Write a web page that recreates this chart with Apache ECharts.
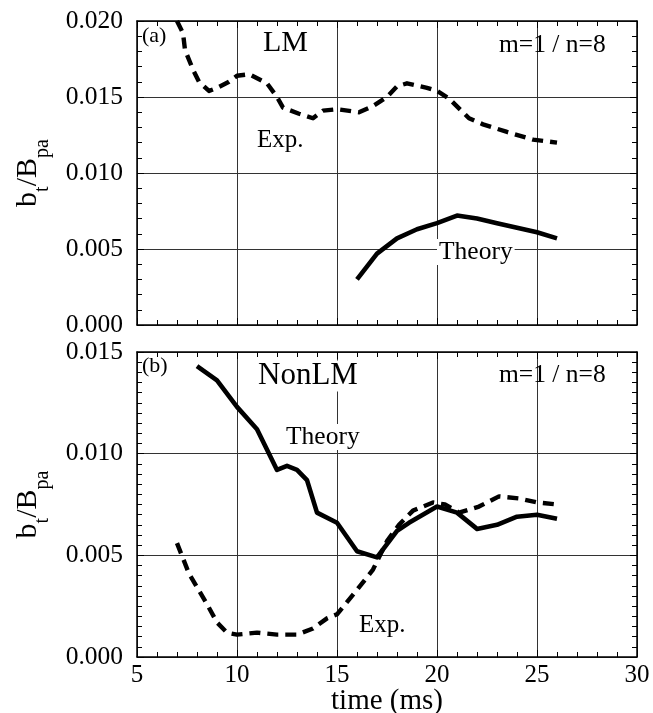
<!DOCTYPE html>
<html>
<head>
<meta charset="utf-8">
<script src="https://cdn.jsdelivr.net/npm/echarts@6/dist/echarts.min.js"></script>
<style>
html,body{margin:0;padding:0;background:#fff;}
#c{width:653px;height:713px;}
</style>
</head>
<body>
<div id="c"></div>
<script>
// ---- data (time in ms, b_t/B_pa) ----
var xTicks = [5, 10, 15, 20, 25, 30];
var topYTicks = [0.000, 0.005, 0.010, 0.015, 0.020];
var botYTicks = [0.000, 0.005, 0.010, 0.015];

// (a) LM, experiment (dashed)
var lmExpT = [7.0, 7.3, 7.4, 7.8, 8.1, 8.6, 9.0, 9.6, 10.0, 10.6, 11.5, 12.0, 12.3, 13.1, 13.8, 14.3, 15.0, 16.1, 16.8, 17.5, 18.0, 18.5, 19.5, 20.0, 20.6, 21.6, 22.3, 23.5, 24.8, 26.0];
var lmExpV = [0.0200, 0.0192, 0.0181, 0.0168, 0.0160, 0.0154, 0.0156, 0.0160, 0.0164, 0.0165, 0.0159, 0.0150, 0.0143, 0.0139, 0.0136, 0.0141, 0.0142, 0.0140, 0.0144, 0.0150, 0.0157, 0.0159, 0.0156, 0.0154, 0.0149, 0.0136, 0.0132, 0.0127, 0.0122, 0.0120];
// (a) LM, theory (solid)
var lmThT = [16, 17, 18, 19, 20, 21, 22, 23, 24, 25, 26];
var lmThV = [0.0030, 0.0047, 0.0057, 0.0063, 0.0067, 0.0072, 0.0070, 0.0067, 0.0064, 0.0061, 0.0057];

// (b) NonLM, theory (solid)
var nlmThT = [8, 9, 10, 11, 12, 12.5, 13, 13.5, 14, 15, 16, 17, 18, 18.6, 20, 21, 22, 23, 24, 25, 26];
var nlmThV = [0.0143, 0.0136, 0.0123, 0.0112, 0.0092, 0.0094, 0.0092, 0.0087, 0.0071, 0.0066, 0.0052, 0.0049, 0.0062, 0.0066, 0.0074, 0.0071, 0.0063, 0.0065, 0.0069, 0.0070, 0.0068];
// (b) NonLM, experiment (dashed)
var nlmExpT = [7.0, 7.6, 8.5, 9.0, 9.5, 10.0, 11.0, 12.0, 13.0, 13.8, 14.5, 15.0, 16.0, 16.8, 17.5, 18.1, 18.8, 19.8, 20.4, 21.1, 22.1, 23.1, 24.1, 25.0, 26.0];
var nlmExpV = [0.0056, 0.0041, 0.0026, 0.0017, 0.0012, 0.0011, 0.0012, 0.0011, 0.0011, 0.0014, 0.0019, 0.0021, 0.0033, 0.0043, 0.0057, 0.0065, 0.0072, 0.0076, 0.0075, 0.0071, 0.0074, 0.0079, 0.0078, 0.0076, 0.0075];

// ---- text ----
var panelTags = ['(a)', '(b)'];
var panelTitles = ['LM', 'NonLM'];
var modeLabel = 'm=1 / n=8';
var expLabel = 'Exp.';
var theoryLabel = 'Theory';
var xTitle = 'time (ms)';

function zip(a, b) { return a.map(function (v, i) { return [v, b[i]]; }); }

var FONT = "'Liberation Serif', 'Times New Roman', Times, serif";
var gridColor = '#333';

function xAxisDef(grid, pos, labels) {
  return {
    type: 'value', gridIndex: grid, position: pos,
    min: xTicks[0], max: xTicks[xTicks.length - 1], interval: 5,
    axisLine: { show: true, onZero: false, lineStyle: { color: '#000', width: 1.5 } },
    axisTick: { show: true, inside: true, length: 7, lineStyle: { color: '#000', width: 1 } },
    minorTick: { show: true, splitNumber: 5, length: 5, lineStyle: { color: '#000', width: 1 } },
    axisLabel: { show: labels, color: '#000', fontFamily: FONT, fontSize: 25, margin: 6,
      showMinLabel: true, showMaxLabel: true },
    splitLine: { show: pos === 'bottom', lineStyle: { color: gridColor, width: 1 } },
    name: labels ? xTitle : '', nameLocation: 'middle', nameGap: 30, nameMoveOverlap: false,
    nameTextStyle: { color: '#000', fontFamily: FONT, fontSize: 29 }
  };
}
function yAxisDef(grid, pos, ticks, minorSplit, labels) {
  return {
    type: 'value', gridIndex: grid, position: pos,
    min: ticks[0], max: ticks[ticks.length - 1], interval: 0.005,
    axisLine: { show: true, onZero: false, lineStyle: { color: '#000', width: 1.5 } },
    axisTick: { show: true, inside: true, length: 7, lineStyle: { color: '#000', width: 1 } },
    minorTick: { show: true, splitNumber: minorSplit, length: 5, lineStyle: { color: '#000', width: 1 } },
    axisLabel: { show: labels, color: '#000', fontFamily: FONT, fontSize: 25.5, margin: 14,
      showMinLabel: true, showMaxLabel: true,
      formatter: function (v) { return v.toFixed(3); } },
    splitLine: { show: pos === 'left', lineStyle: { color: gridColor, width: 1 } },
    name: labels ? '{b|b}{s|t}{b|/B}{s|pa}' : '', nameLocation: 'middle', nameRotate: 90, nameGap: 84,
    nameMoveOverlap: false,
    nameTextStyle: { color: '#000', rich: {
      b: { fontFamily: FONT, fontSize: 30, color: '#000' },
      s: { fontFamily: FONT, fontSize: 20, color: '#000', padding: [30, 0, 0, 0] }
    } }
  };
}

function lineSeries(xi, yi, data, dashed) {
  return {
    type: 'line', xAxisIndex: xi, yAxisIndex: yi, data: data,
    showSymbol: false, symbol: 'none', smooth: false, clip: true, silent: true,
    lineStyle: { color: '#000', width: dashed ? 4.4 : 4.6, type: dashed ? [11, 7] : 'solid', cap: 'butt', join: 'round' }
  };
}

function label(x, y, text, size, bg) {
  return {
    type: 'text', x: x, y: y, z: 100,
    style: { text: text, fill: '#000', fontFamily: FONT, fontSize: size,
      textAlign: 'left', textVerticalAlign: 'middle',
      backgroundColor: bg ? '#fff' : null, padding: bg ? [0, 2, 0, 2] : 0 }
  };
}

var chart = echarts.init(document.getElementById('c'), null, { renderer: 'canvas' });
chart.setOption({
  animation: false,
  backgroundColor: '#fff',
  grid: [
    { left: 137, top: 21, width: 500, height: 304, containLabel: false, outerBoundsMode: 'none' },
    { left: 137, top: 352, width: 500, height: 305, containLabel: false, outerBoundsMode: 'none' }
  ],
  xAxis: [
    xAxisDef(0, 'bottom', false),
    xAxisDef(0, 'top', false),
    xAxisDef(1, 'bottom', true),
    xAxisDef(1, 'top', false)
  ],
  yAxis: [
    yAxisDef(0, 'left', topYTicks, 5, true),
    yAxisDef(0, 'right', topYTicks, 5, false),
    yAxisDef(1, 'left', botYTicks, 10, true),
    yAxisDef(1, 'right', botYTicks, 10, false)
  ],
  series: [
    lineSeries(0, 0, zip(lmExpT, lmExpV), true),
    lineSeries(0, 0, zip(lmThT, lmThV), false),
    lineSeries(2, 2, zip(nlmThT, nlmThV), false),
    lineSeries(2, 2, zip(nlmExpT, nlmExpV), true)
  ],
  graphic: [
    label(142, 36, panelTags[0], 22, false),
    label(263, 43, panelTitles[0], 30, false),
    label(499, 45, modeLabel, 25.5, false),
    label(257, 140, expLabel, 25, false),
    label(437, 252, theoryLabel, 25.5, true),
    label(142, 366, panelTags[1], 22, false),
    label(256, 376, panelTitles[1], 31, true),
    label(499, 375, modeLabel, 25.5, false),
    label(284, 437, theoryLabel, 25.5, true),
    label(359, 625, expLabel, 25, false)
  ]
});
</script>
</body>
</html>
